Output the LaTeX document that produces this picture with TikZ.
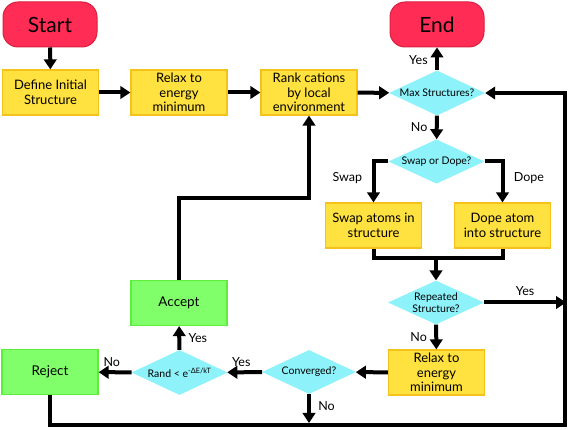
\documentclass[tikz,border=0pt]{standalone}
\usepackage{fontspec}
\setmainfont{Lato}
\usetikzlibrary{shapes.geometric,arrows.meta}
\definecolor{redf}{HTML}{FF2D55}
\definecolor{redd}{HTML}{D8203F}
\definecolor{yelf}{HTML}{FFE23F}
\definecolor{yeld}{HTML}{F5C21B}
\definecolor{grnf}{HTML}{80FF6A}
\definecolor{grnd}{HTML}{5CEE3A}
\definecolor{cyaf}{HTML}{8EF2FA}
\tikzset{
  term/.style={draw=redd,fill=redf,line width=1pt,rounded corners=15pt,minimum width=94pt,minimum height=45pt,inner sep=0pt,font=\fontsize{21}{23}\selectfont},
  ybox/.style={draw=yeld,fill=yelf,line width=1.2pt,minimum width=96pt,minimum height=45pt,inner sep=0pt,align=center,font=\fontsize{13}{14.5}\selectfont},
  gbox/.style={draw=grnd,fill=grnf,line width=1.2pt,minimum width=96pt,minimum height=45pt,inner sep=0pt,align=center,font=\fontsize{13.5}{15}\selectfont},
  dia/.style={diamond,fill=cyaf,aspect=2,minimum width=96pt,minimum height=45pt,inner sep=0pt,align=center,font=\fontsize{10.5}{12.5}\selectfont},
  arr/.style={line width=4pt,-{Triangle[length=10pt,width=12.5pt]}},
  ln/.style={line width=4pt},
  lab/.style={font=\fontsize{12.5}{14}\selectfont}
}
\begin{document}
\begin{tikzpicture}[x=1pt,y=-1pt]
\useasboundingbox (0,0) rectangle (571,430);
% nodes
\node[term] (start) at (50,24.5) {Start};
\node[term] (end) at (437,24.5) {End};
\node[ybox] (define) at (50.5,92.5) {Define Initial\\Structure};
\node[ybox] (relax1) at (179,92.5) {Relax to\\energy\\minimum};
\node[ybox] (rank) at (309,92.5) {Rank cations\\by local\\environment};
\node[dia] (maxs) at (437,93) {Max Structures?};
\node[dia,minimum height=43pt] (swapdope) at (436.5,161.5) {Swap or Dope?};
\node[ybox] (swap) at (373.5,225.5) {Swap atoms in\\structure};
\node[ybox] (dope) at (502.5,225.5) {Dope atom\\into structure};
\node[dia,minimum height=43pt] (rep) at (436,302.5) {Repeated\\Structure?};
\node[ybox] (relax2) at (436.5,372.5) {Relax to\\energy\\minimum};
\node[dia,minimum width=94pt,minimum height=44pt] (conv) at (309,372) {Converged?};
\node[dia] (rand) at (179.5,372.5) {Rand < e\textsuperscript{-ΔE/kT}};
\node[gbox] (accept) at (179,303) {Accept};
\node[gbox] (reject) at (50,372) {Reject};
% coordinates
\coordinate (sdL) at (373.5,161.5);
\coordinate (sdR) at (502.5,161.5);
\coordinate (mL) at (373.5,258);
\coordinate (mR) at (502.5,258);
\coordinate (mC) at (436,258);
\coordinate (repE) at (566,302.5);
\coordinate (bl) at (50,425);
\coordinate (br) at (565,425);
\coordinate (tr) at (565,93);
\coordinate (convN) at (309,423);
\coordinate (a1) at (179,198);
\coordinate (a2) at (309,198);
% connectors
\draw[arr] (start) -- (define);
\draw[arr] (define) -- (relax1);
\draw[arr] (relax1) -- (rank);
\draw[arr] (rank) -- (maxs);
\draw[arr] (maxs) -- node[lab,left=4pt,pos=0.45]{Yes} (end);
\draw[arr] (maxs) -- node[lab,left=4pt]{No} (swapdope);
\draw[arr] (swapdope.west) -- (sdL) -- node[lab,left=6pt,pos=0.4]{Swap} (swap);
\draw[arr] (swapdope.east) -- (sdR) -- node[lab,right=6pt,pos=0.4]{Dope} (dope);
\draw[ln] (swap.south) -- (mL) -- (mR) -- (dope.south);
\draw[arr] (mC) -- (rep);
\draw[arr] (rep.east) -- node[lab,above=2pt,pos=0.5]{Yes} (repE);
\draw[arr] (rep) -- node[lab,left=4pt]{No} (relax2);
\draw[arr,line join=miter] (reject.south) -- (bl) -- (br) -- (tr) -- (maxs.east);
\draw[arr] (relax2) -- (conv);
\draw[arr] (conv) -- node[lab,above=0pt,pos=0.6]{Yes} (rand);
\draw[arr] (conv.south) -- node[lab,right=4pt,pos=0.4]{No} (convN);
\draw[arr] (rand) -- node[lab,above=0pt,pos=0.6]{No} (reject);
\draw[arr] (rand) -- node[lab,right=4pt]{Yes} (accept);
\draw[arr,line join=miter] (accept.north) -- (a1) -- (a2) -- (rank.south);
\end{tikzpicture}
\end{document}
